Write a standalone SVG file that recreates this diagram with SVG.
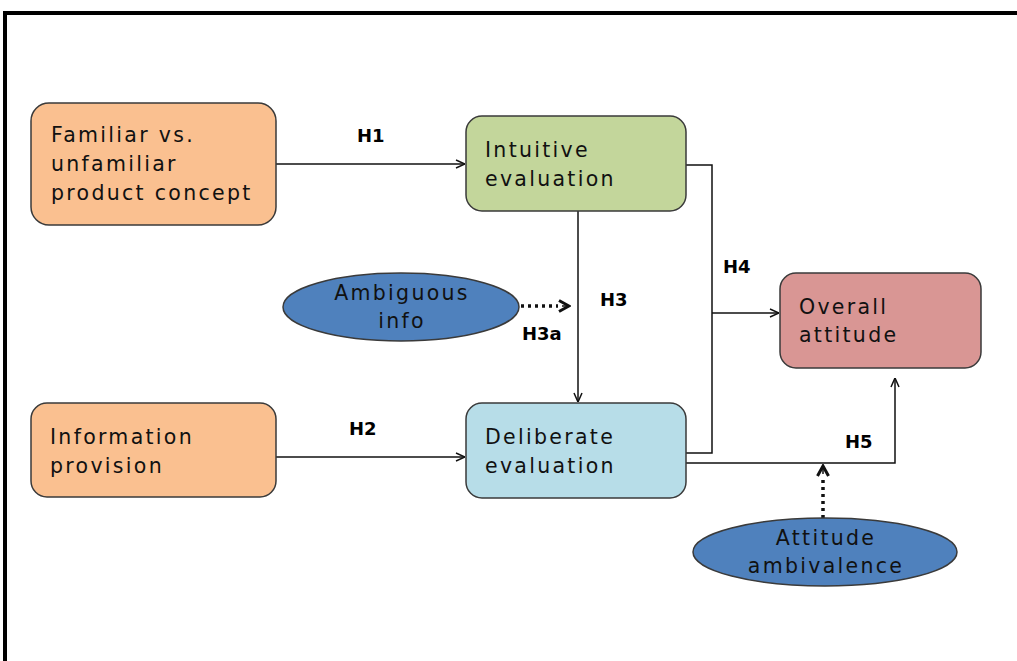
<svg xmlns="http://www.w3.org/2000/svg" width="1017" height="661" viewBox="0 0 1017 661">
  <style>
    .box { stroke: #3a3a3a; stroke-width: 1.5; }
    .lbl { font-family: "DejaVu Sans", Verdana, sans-serif; font-size: 20.5px; fill: #111; letter-spacing: 2.3px; }
    .hyp { font-family: "DejaVu Sans", Verdana, sans-serif; font-size: 18px; font-weight: bold; fill: #000; }
    .link { fill: none; stroke: #111; stroke-width: 1.5; }
    .dot { fill: none; stroke: #111; stroke-width: 3.5; stroke-dasharray: 3 4; }
  </style>
  <defs>
    <marker id="open" viewBox="0 0 10 10" refX="10" refY="5" markerWidth="10" markerHeight="10" markerUnits="userSpaceOnUse" orient="auto">
      <path d="M1,1 L10,5 L1,9" fill="none" stroke="#111" stroke-width="1.5"/>
    </marker>
    <marker id="chev" viewBox="0 0 14 14" refX="12" refY="7" markerWidth="14" markerHeight="14" markerUnits="userSpaceOnUse" orient="auto">
      <path d="M2,1.5 L12,7 L2,12.5" fill="none" stroke="#111" stroke-width="3"/>
    </marker>
  </defs>
  <rect width="1017" height="661" fill="#fff"/>
  <!-- outer frame -->
  <path d="M5,661 L5,13 L1017,13" fill="none" stroke="#000" stroke-width="4"/>

  <g id="connectors">
    <path class="link" d="M276,164 L465,164" marker-end="url(#open)"/>
    <path class="link" d="M276,457 L465,457" marker-end="url(#open)"/>
    <path class="link" d="M578,211 L578,402" marker-end="url(#open)"/>
    <path class="link" d="M686,165 L712,165 L712,453 L686,453"/>
    <path class="link" d="M712,313 L779,313" marker-end="url(#open)"/>
    <path class="link" d="M686,463 L895,463 L895,378" marker-end="url(#open)"/>
    <path class="dot" d="M521,306 L558,306"/>
    <path class="link" d="M562,306 L569,306" marker-end="url(#chev)" stroke-width="0"/>
    <path class="dot" d="M823,518 L823,476"/>
    <path class="link" d="M823,474 L823,466" marker-end="url(#chev)" stroke-width="0"/>
    <text class="hyp" x="357" y="142">H1</text>
    <text class="hyp" x="349" y="435">H2</text>
    <text class="hyp" x="600" y="306">H3</text>
    <text class="hyp" x="522" y="340">H3a</text>
    <text class="hyp" x="723" y="273">H4</text>
    <text class="hyp" x="845" y="448">H5</text>
  </g>

  <g id="familiar">
    <rect class="box" x="31" y="103" width="245" height="122" rx="18" fill="#FAC090"/>
    <text class="lbl" x="51" y="142">Familiar vs.</text>
    <text class="lbl" x="51" y="171">unfamiliar</text>
    <text class="lbl" x="51" y="200">product concept</text>
  </g>
  <g id="information">
    <rect class="box" x="31" y="403" width="245" height="94" rx="16" fill="#FAC090"/>
    <text class="lbl" x="50" y="444">Information</text>
    <text class="lbl" x="50" y="473">provision</text>
  </g>
  <g id="intuitive">
    <rect class="box" x="466" y="116" width="220" height="95" rx="16" fill="#C3D69B"/>
    <text class="lbl" x="485" y="157">Intuitive</text>
    <text class="lbl" x="485" y="186">evaluation</text>
  </g>
  <g id="deliberate">
    <rect class="box" x="466" y="403" width="220" height="95" rx="16" fill="#B7DDE8"/>
    <text class="lbl" x="485" y="444">Deliberate</text>
    <text class="lbl" x="485" y="473">evaluation</text>
  </g>
  <g id="overall">
    <rect class="box" x="780" y="273" width="201" height="95" rx="16" fill="#D99694"/>
    <text class="lbl" x="799" y="314">Overall</text>
    <text class="lbl" x="799" y="342">attitude</text>
  </g>
  <g id="ambiguous">
    <ellipse class="box" cx="401" cy="307" rx="118" ry="34" fill="#4F81BD"/>
    <text class="lbl" x="402" y="300" text-anchor="middle">Ambiguous</text>
    <text class="lbl" x="402" y="328" text-anchor="middle">info</text>
  </g>
  <g id="ambivalence">
    <ellipse class="box" cx="825" cy="552" rx="132" ry="34" fill="#4F81BD"/>
    <text class="lbl" x="826" y="545" text-anchor="middle">Attitude</text>
    <text class="lbl" x="826" y="573" text-anchor="middle">ambivalence</text>
  </g>
</svg>
